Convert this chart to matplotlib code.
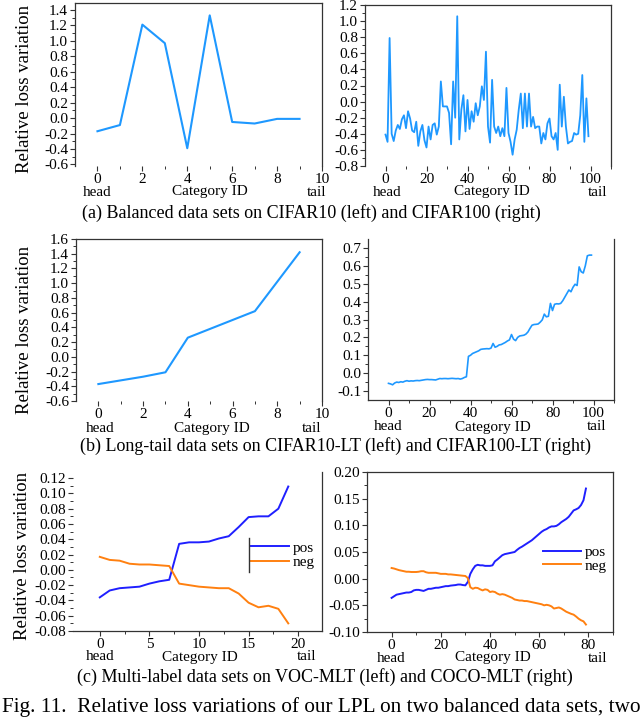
import numpy as np
import matplotlib
matplotlib.use("Agg")
import matplotlib.pyplot as plt
from matplotlib.ticker import FixedLocator, FormatStrFormatter
from matplotlib.lines import Line2D

plt.rcParams['font.family'] = ['Liberation Serif', 'DejaVu Serif']
plt.rcParams['axes.unicode_minus'] = False

# ---------------- data ----------------
cat10 = list(range(10))
cifar10_bal = [-0.17, -0.09, 1.21, 0.97, -0.39, 1.33, -0.05, -0.07, -0.01, -0.01]
cifar10_lt = [-0.37, -0.32, -0.27, -0.21, 0.26, 0.38, 0.50, 0.62, 1.02, 1.42]

cat100 = list(range(100))
cifar100_bal = [
    -0.41, -0.50, 0.79, -0.40, -0.49, -0.36, -0.29, -0.34, -0.22, -0.17,
    -0.33, -0.12, -0.21, -0.36, -0.38, -0.25, -0.55, -0.37, -0.29, -0.48,
    -0.57, -0.31, -0.47, -0.29, -0.27, -0.41, -0.31, 0.25, -0.06, -0.06,
    -0.06, -0.14, -0.53, 0.25, -0.20, 1.06, -0.47, -0.10, 0.08, -0.37,
    0.02, -0.34, -0.12, -0.25, -0.02, -0.17, -0.06, 0.19, 0.02, 0.62,
    -0.31, -0.51, 0.27, -0.31, -0.39, -0.31, -0.43, -0.33, -0.43, 0.17,
    -0.39, -0.50, -0.66, -0.47, -0.35, -0.10, 0.10, -0.33, 0.10, -0.31,
    0.10, -0.31, -0.19, -0.33, -0.31, -0.31, -0.52, -0.39, -0.47, -0.27,
    -0.21, -0.43, -0.47, -0.39, -0.60, 0.21, -0.31, 0.06, -0.31, -0.52,
    -0.50, -0.49, -0.39, -0.41, -0.40, -0.17, 0.33, -0.50, 0.04, -0.43]
cifar100_lt = [
    -0.057, -0.060, -0.065, -0.055, -0.050, -0.052, -0.048, -0.050, -0.045, -0.042,
    -0.045, -0.043, -0.044, -0.042, -0.041, -0.042, -0.040, -0.038, -0.036, -0.035,
    -0.036, -0.036, -0.037, -0.038, -0.034, -0.030, -0.031, -0.030, -0.030, -0.031,
    -0.030, -0.029, -0.030, -0.031, -0.030, -0.033, -0.030, -0.024, -0.020, 0.094,
    0.100, 0.110, 0.115, 0.120, 0.125, 0.133, 0.135, 0.136, 0.137, 0.136,
    0.140, 0.166, 0.145, 0.150, 0.158, 0.160, 0.166, 0.172, 0.180, 0.186,
    0.216, 0.190, 0.182, 0.200, 0.208, 0.210, 0.212, 0.218, 0.230, 0.250,
    0.268, 0.272, 0.273, 0.275, 0.285, 0.298, 0.330, 0.315, 0.318, 0.390,
    0.350, 0.385, 0.388, 0.387, 0.390, 0.405, 0.425, 0.445, 0.465, 0.455,
    0.480, 0.497, 0.490, 0.594, 0.567, 0.560, 0.600, 0.656, 0.660, 0.660]

cat20 = list(range(20))
voc_pos = [-0.036, -0.027, -0.024, -0.023, -0.022, -0.018, -0.015, -0.013, 0.034, 0.036,
           0.036, 0.037, 0.041, 0.044, 0.056, 0.069, 0.070, 0.070, 0.080, 0.109]
voc_neg = [0.017, 0.013, 0.012, 0.008, 0.007, 0.007, 0.006, 0.005, -0.018, -0.020,
           -0.022, -0.023, -0.024, -0.024, -0.031, -0.043, -0.049, -0.047, -0.051, -0.070]

cat80 = list(range(80))
coco_pos = [
    -0.036, -0.033, -0.030, -0.029, -0.028, -0.027, -0.026, -0.026, -0.025, -0.022,
    -0.021, -0.021, -0.022, -0.023, -0.021, -0.019, -0.019, -0.018, -0.017, -0.017,
    -0.016, -0.015, -0.014, -0.014, -0.013, -0.0125, -0.012, -0.011, -0.011, -0.012,
    -0.0125, -0.006, 0.009, 0.0175, 0.024, 0.026, 0.025, 0.025, 0.024, 0.024,
    0.024, 0.025, 0.0325, 0.036, 0.040, 0.044, 0.046, 0.047, 0.048, 0.049,
    0.050, 0.054, 0.0575, 0.060, 0.063, 0.066, 0.069, 0.072, 0.076, 0.080,
    0.084, 0.088, 0.091, 0.093, 0.096, 0.098, 0.098, 0.099, 0.102, 0.106,
    0.109, 0.112, 0.116, 0.122, 0.128, 0.130, 0.1325, 0.138, 0.147, 0.169]
coco_neg = [
    0.020, 0.019, 0.0175, 0.016, 0.015, 0.014, 0.013, 0.013, 0.0125, 0.0125,
    0.0125, 0.013, 0.014, 0.014, 0.012, 0.011, 0.011, 0.011, 0.011, 0.010,
    0.009, 0.009, 0.009, 0.008, 0.008, 0.0075, 0.007, 0.0065, 0.006, 0.0055,
    0.005, 0.001, -0.016, -0.019, -0.017, -0.0175, -0.020, -0.022, -0.020, -0.021,
    -0.025, -0.024, -0.025, -0.028, -0.030, -0.029, -0.030, -0.032, -0.034, -0.036,
    -0.039, -0.040, -0.041, -0.041, -0.042, -0.042, -0.043, -0.044, -0.045, -0.046,
    -0.047, -0.048, -0.050, -0.049, -0.050, -0.052, -0.056, -0.055, -0.054, -0.056,
    -0.059, -0.062, -0.064, -0.066, -0.0675, -0.071, -0.075, -0.078, -0.080, -0.086]

# tick values
x10_major = [0, 2, 4, 6, 8, 10]
x10_minor = [1, 3, 5, 7, 9]
x100_major = [0, 20, 40, 60, 80, 100]
x100_minor = [10, 30, 50, 70, 90, 110]
x20_major = [0, 5, 10, 15, 20]
x20_minor = [2.5, 7.5, 12.5, 17.5]
x80_major = [0, 20, 40, 60, 80]
x80_minor = [10, 30, 50, 70, 90]

y_tl_major = [-0.6, -0.4, -0.2, 0.0, 0.2, 0.4, 0.6, 0.8, 1.0, 1.2, 1.4]
y_tr_major = [-0.8, -0.6, -0.4, -0.2, 0.0, 0.2, 0.4, 0.6, 0.8, 1.0, 1.2]
y_ml_major = [-0.6, -0.4, -0.2, 0.0, 0.2, 0.4, 0.6, 0.8, 1.0, 1.2, 1.4, 1.6]
y_mr_major = [-0.1, 0.0, 0.1, 0.2, 0.3, 0.4, 0.5, 0.6, 0.7]
y_bl_major = [-0.08, -0.06, -0.04, -0.02, 0.00, 0.02, 0.04, 0.06, 0.08, 0.10, 0.12]
y_br_major = [-0.10, -0.05, 0.00, 0.05, 0.10, 0.15, 0.20]

captions = ["(a) Balanced data sets on CIFAR10 (left) and CIFAR100 (right)",
            "(b) Long-tail data sets on CIFAR10-LT (left) and CIFAR100-LT (right)",
            "(c) Multi-label data sets on VOC-MLT (left) and COCO-MLT (right)"]
fig_caption = "Fig. 11.  Relative loss variations of our LPL on two balanced data sets, two"
ylabel_text = "Relative loss variation"

# ---------------- styling ----------------
LBLUE = '#1E98FF'
BLUE = '#1F1FFF'
ORANGE = '#FF8010'
SPINE = '#333333'
TICKFS = 11
CAPFS = 13

W, H = 640, 724
fig = plt.figure(figsize=(6.4, 7.24), dpi=100)


def add_ax(l, r, t, b):
    return fig.add_axes([l / W, 1 - b / H, (r - l) / W, (b - t) / H])


def ftext(x, y, s, **kw):
    fig.text(x / W, 1 - y / H, s, **kw)


def minors(major):
    return [round((a + b) / 2, 4) for a, b in zip(major[:-1], major[1:])]


def style(ax, xlim, ylim, xmaj, xmin, ymaj, yfmt, spines):
    ax.set_xlim(*xlim)
    ax.set_ylim(*ylim)
    ax.xaxis.set_major_locator(FixedLocator(xmaj))
    ax.xaxis.set_minor_locator(FixedLocator(xmin))
    ax.yaxis.set_major_locator(FixedLocator(ymaj))
    ax.yaxis.set_minor_locator(FixedLocator(minors(ymaj)))
    ax.yaxis.set_major_formatter(FormatStrFormatter(yfmt))
    ax.xaxis.set_major_formatter(FormatStrFormatter('%g'))
    for name, sp in ax.spines.items():
        sp.set_visible(name in spines)
        sp.set_color(SPINE)
        sp.set_linewidth(0.9)
    ax.tick_params(which='major', direction='out', length=3.5, width=0.8,
                   color=SPINE, labelsize=TICKFS, pad=1.5)
    ax.tick_params(which='minor', direction='out', length=2, width=0.7, color=SPINE)
    ax.patch.set_alpha(0)


def bottom_labels(y, xs):
    ftext(xs[0], y, "head", ha='center', va='center', fontsize=TICKFS)
    ftext(xs[1], y, "Category ID", ha='center', va='center', fontsize=TICKFS)
    ftext(xs[2], y, "tail", ha='center', va='center', fontsize=TICKFS)


# (a) left
ax = add_ax(75, 322, 3, 166)
ax.plot(cat10, cifar10_bal, color=LBLUE, lw=1.5)
style(ax, (-1, 10), (-0.62, 1.49), x10_major, x10_minor, y_tl_major, '%.1f',
      ('left', 'top', 'right'))
bottom_labels(192, (97, 210, 317))
ftext(25, 89, ylabel_text, rotation=90, ha='center', va='center', fontsize=13.5)

# (a) right
ax = add_ax(365, 611, 5, 166)
ax.plot(cat100, cifar100_bal, color=LBLUE, lw=1.3)
style(ax, (-10, 110), (-0.8, 1.2), x100_major, x100_minor, y_tr_major, '%.1f',
      ('left', 'top', 'right'))
bottom_labels(192, (387, 492, 598))

ftext(311, 213, captions[0], ha='center', va='center', fontsize=CAPFS)

# (b) left
ax = add_ax(76, 322, 239, 401)
ax.plot(cat10, cifar10_lt, color=LBLUE, lw=1.5)
style(ax, (-1, 10), (-0.6, 1.6), x10_major, x10_minor, y_ml_major, '%.1f',
      ('left', 'top', 'right'))
bottom_labels(428, (100, 212, 312))
ftext(25, 330, ylabel_text, rotation=90, ha='center', va='center', fontsize=13.5)

# (b) right
ax = add_ax(368, 614, 239, 400)
ax.plot(cat100, cifar100_lt, color=LBLUE, lw=1.2)
style(ax, (-10, 110), (-0.15, 0.75), x100_major, x100_minor, y_mr_major, '%.1f',
      ('left', 'right', 'bottom'))
bottom_labels(427, (388, 493, 597))

ftext(336, 446, captions[1], ha='center', va='center', fontsize=CAPFS)

# (c) left
ax = add_ax(73, 322, 472, 631)
ax.plot(cat20, voc_pos, color=BLUE, lw=1.4, label='pos')
ax.plot(cat20, voc_neg, color=ORANGE, lw=1.4, label='neg')
style(ax, (-2.7, 22.4), (-0.08, 0.128), x20_major, x20_minor, y_bl_major, '%.2f',
      ('right', 'bottom'))
bottom_labels(657, (100, 200, 307))
ftext(23, 556, ylabel_text, rotation=90, ha='center', va='center', fontsize=13.5)
ax.legend(loc='center left', bbox_to_anchor=(250.7 / W, 1 - 555 / H),
          bbox_transform=fig.transFigure, frameon=False, borderpad=0,
          borderaxespad=0, handlelength=2.5, handletextpad=0.25,
          labelspacing=0.05, fontsize=TICKFS)
fig.add_artist(Line2D([249.3 / W, 249.3 / W], [1 - 538 / H, 1 - 572 / H],
                      color=SPINE, lw=1))

# (c) right
ax = add_ax(367, 613, 472, 632)
ax.plot(cat80, coco_pos, color=BLUE, lw=1.4, label='pos')
ax.plot(cat80, coco_neg, color=ORANGE, lw=1.4, label='neg')
style(ax, (-10, 90), (-0.10, 0.20), x80_major, x80_minor, y_br_major, '%.2f',
      ('left', 'top', 'right', 'bottom'))
bottom_labels(658, (391, 493, 598))
ax.legend(loc='center left', bbox_to_anchor=(543.3 / W, 1 - 559 / H),
          bbox_transform=fig.transFigure, frameon=False, borderpad=0,
          borderaxespad=0, handlelength=2.45, handletextpad=0.25,
          labelspacing=0.0, fontsize=TICKFS)

ftext(325, 677, captions[2], ha='center', va='center', fontsize=CAPFS)
ftext(2, 707, fig_caption, ha='left', va='center', fontsize=15.3)

fig.savefig("out.png", dpi=100)
